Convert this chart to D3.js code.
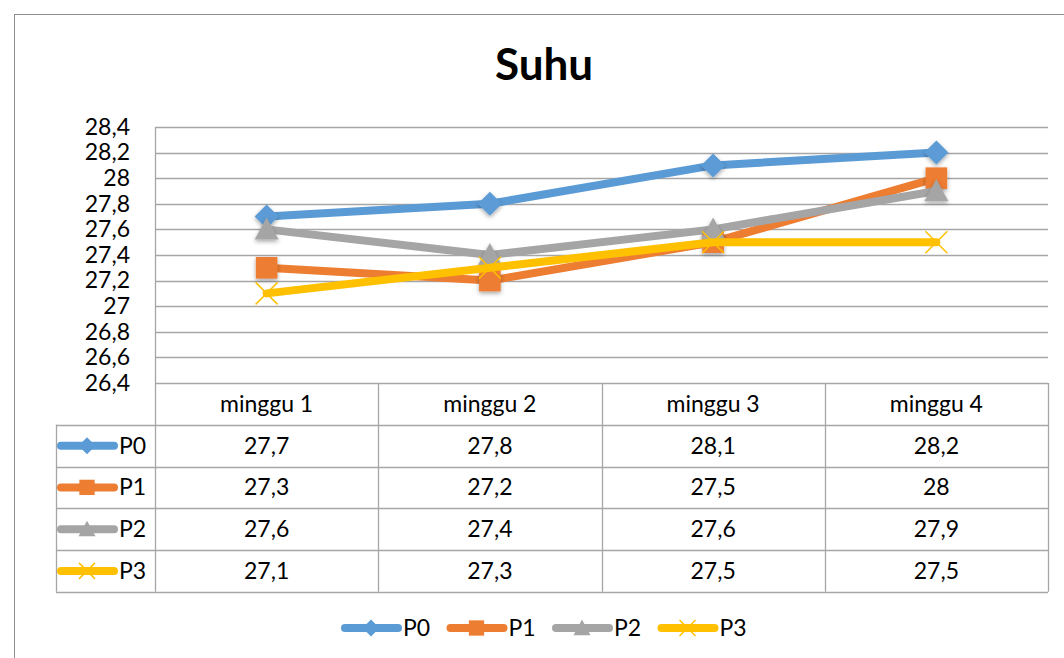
<!DOCTYPE html>
<html lang="id">
<head>
<meta charset="UTF-8">
<script src="https://d3js.org/d3.v7.min.js"></script>
<title>Suhu</title>
<style>
  body { margin: 0; background: #fff; }
  text { font-family: Lato, "Noto Sans", sans-serif; fill: #000; }
</style>
</head>
<body>
<svg id="chart"></svg>
<script>
// data
var categories = ["minggu 1", "minggu 2", "minggu 3", "minggu 4"];
var seriesNames = ["P0", "P1", "P2", "P3"];
var p0 = [27.7, 27.8, 28.1, 28.2];
var p1 = [27.3, 27.2, 27.5, 28];
var p2 = [27.6, 27.4, 27.6, 27.9];
var p3 = [27.1, 27.3, 27.5, 27.5];
var yTicks = [26.4, 26.6, 26.8, 27, 27.2, 27.4, 27.6, 27.8, 28, 28.2, 28.4];

var colors = ["#5B9BD5", "#ED7D31", "#A5A5A5", "#FFC000"];
var markers = ["diamond", "square", "triangle", "x"];
var series = [p0, p1, p2, p3].map(function(v, i){
  return {name: seriesNames[i], values: v, color: colors[i], marker: markers[i]};
});

const width = 1064, height = 658;
const plot = {left: 155, right: 1048, top: 127, bottom: 383};
const rowH = 41.75, tableLeft = 56;
const gridColor = "#a6a6a6";
const fs = 23;
const fmt = function(v){ return String(v).replace(".", ","); };

var svg = d3.select("#chart").attr("width", width).attr("height", height);

// shadow for markers
var defs = svg.append("defs");
var f = defs.append("filter").attr("id", "shadow").attr("x", "-50%").attr("y", "-50%").attr("width", "200%").attr("height", "200%");
f.append("feDropShadow").attr("dx", 0).attr("dy", 2).attr("stdDeviation", 2).attr("flood-color", "#000").attr("flood-opacity", 0.35);

// outer border
svg.append("rect").attr("x", 14.5).attr("y", 14.5).attr("width", 1070).attr("height", 670)
  .attr("fill", "none").attr("stroke", "#8c8c8c").attr("stroke-width", 1);

// title
svg.append("text").attr("x", 544).attr("y", 80).attr("text-anchor", "middle")
  .attr("font-size", 44).attr("font-weight", "bold").text("Suhu");

var x = d3.scaleBand().domain(categories).range([plot.left, plot.right]).padding(0);
var y = d3.scaleLinear().domain([26.4, 28.4]).range([plot.bottom, plot.top]);

// gridlines
svg.append("g").selectAll("line").data(yTicks).enter().append("line")
  .attr("x1", plot.left).attr("x2", plot.right)
  .attr("y1", function(d){ return Math.round(y(d)) + 0.5; })
  .attr("y2", function(d){ return Math.round(y(d)) + 0.5; })
  .attr("stroke", gridColor).attr("stroke-width", 1.3);

// y axis labels
var yAxis = d3.axisLeft(y).tickValues(yTicks).tickSize(0).tickPadding(25).tickFormat(fmt);
svg.append("g").attr("transform", "translate(" + plot.left + ",0)").call(yAxis)
  .call(function(g){ g.select(".domain").remove(); })
  .selectAll("text").attr("font-size", fs).attr("font-family", "Lato, 'Noto Sans', sans-serif");

// data table
var tableTop = plot.bottom;
var tableBottom = tableTop + rowH * 5;
var tg = svg.append("g").attr("stroke", gridColor).attr("stroke-width", 1.3);
// vertical lines
tg.append("line").attr("x1", plot.left + 0.5).attr("x2", plot.left + 0.5).attr("y1", plot.top).attr("y2", tableBottom);
categories.forEach(function(c){
  var xx = Math.round(x(c) + x.bandwidth()) + 0.5;
  tg.append("line").attr("x1", xx).attr("x2", xx).attr("y1", tableTop).attr("y2", tableBottom);
});
tg.append("line").attr("x1", tableLeft + 0.5).attr("x2", tableLeft + 0.5).attr("y1", tableTop + rowH).attr("y2", tableBottom);
// horizontal lines
for (var r = 1; r <= 5; r++) {
  var yy = Math.round(tableTop + rowH * r) + 0.5;
  tg.append("line").attr("x1", tableLeft).attr("x2", plot.right).attr("y1", yy).attr("y2", yy);
}

// header
svg.append("g").selectAll("text").data(categories).enter().append("text")
  .attr("x", function(d){ return x(d) + x.bandwidth() / 2; })
  .attr("y", tableTop + rowH / 2 + 8).attr("text-anchor", "middle").attr("font-size", fs)
  .text(function(d){ return d; });

// marker drawing
function drawMarker(g, type, color, size) {
  var s = size / 2;
  if (type === "diamond") {
    g.append("path").attr("d", "M0," + (-s) + "L" + s + ",0L0," + s + "L" + (-s) + ",0Z").attr("fill", color);
  } else if (type === "square") {
    g.append("rect").attr("x", -s * 0.9).attr("y", -s * 0.9).attr("width", s * 1.8).attr("height", s * 1.8).attr("fill", color);
  } else if (type === "triangle") {
    g.append("path").attr("d", "M0," + (-s) + "L" + s + "," + (s * 0.85) + "L" + (-s) + "," + (s * 0.85) + "Z").attr("fill", color);
  } else {
    g.append("path").attr("d", "M" + (-s) + "," + (-s) + "L" + s + "," + s + "M" + s + "," + (-s) + "L" + (-s) + "," + s)
      .attr("stroke", color).attr("stroke-width", 1.5).attr("fill", "none");
  }
}

function legendKey(g, s, x0, yc) {
  g.append("line").attr("x1", x0 + 4).attr("x2", x0 + 57).attr("y1", yc).attr("y2", yc)
    .attr("stroke", s.color).attr("stroke-width", 8).attr("stroke-linecap", "round");
  var m = g.append("g").attr("transform", "translate(" + (x0 + 30) + "," + yc + ")");
  drawMarker(m, s.marker, s.color, s.marker === "x" ? 16 : 17);
  g.append("text").attr("x", x0 + 62).attr("y", yc + 8).attr("font-size", fs).text(s.name);
}

// table rows
series.forEach(function(s, i){
  var rowTop = tableTop + rowH * (i + 1);
  var yc = rowTop + rowH / 2;
  var rg = svg.append("g");
  legendKey(rg, s, tableLeft + 1, yc);
  rg.selectAll("text.val").data(s.values).enter().append("text").attr("class", "val")
    .attr("x", function(d, j){ return x(categories[j]) + x.bandwidth() / 2; })
    .attr("y", yc + 8).attr("text-anchor", "middle").attr("font-size", fs)
    .text(function(d){ return fmt(d); });
});

// lines
var line = d3.line()
  .x(function(d, j){ return x(categories[j]) + x.bandwidth() / 2; })
  .y(function(d){ return y(d); });

series.forEach(function(s){
  svg.append("path").attr("d", line(s.values)).attr("fill", "none")
    .attr("stroke", s.color).attr("stroke-width", 8)
    .attr("stroke-linecap", "round").attr("stroke-linejoin", "round");
  var mg = svg.append("g").attr("filter", s.marker === "x" ? null : "url(#shadow)");
  s.values.forEach(function(v, j){
    var m = mg.append("g").attr("transform", "translate(" + (x(categories[j]) + x.bandwidth() / 2) + "," + y(v) + ")");
    drawMarker(m, s.marker, s.color, s.marker === "x" ? 22 : 24);
  });
});

// bottom legend
var lg = svg.append("g");
series.forEach(function(s, i){
  legendKey(lg, s, 341 + i * 105.5, 628);
});
</script>
</body>
</html>
